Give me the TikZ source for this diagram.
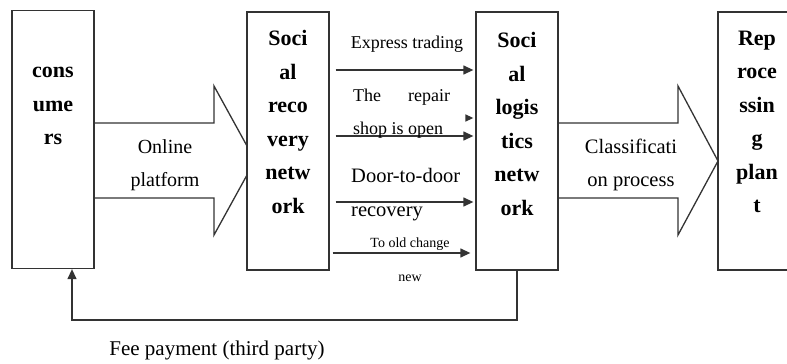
\documentclass[tikz,border=0pt]{standalone}
\usepackage{fontspec}
\setmainfont{Liberation Serif}
\usetikzlibrary{arrows.meta,calc}

\tikzset{
  box/.style={draw=black!80, line width=1.3pt, fill=white, minimum width=82pt, minimum height=258pt, inner sep=0pt},
  boxtext/.style={font=\bfseries\fontsize{22}{33.5}\selectfont, align=center, inner sep=0pt},
  lbl/.style={inner sep=0pt, align=center},
  flow/.style={draw=black!80, line width=1.3pt, -{Triangle[length=10pt,width=9pt]}},
  blockarrow/.style={draw=black!80, line width=1.3pt, line join=miter}
}

\begin{document}
\begin{tikzpicture}[x=1pt,y=-1pt]
    \clip (0,0) rectangle (787,364);
    \fill[white] (0,0) rectangle (787,364);
    % wide arrows first, the boxes cover their tips
    \draw[blockarrow] (94,123) -- (214,123) -- (214,86) -- (255,160.5) -- (214,235) -- (214,198) -- (94,198);
    \draw[blockarrow] (557,123) -- (678,123) -- (678,86) -- (718,161) -- (678,235) -- (678,198) -- (557,198);
    \node[lbl, font=\fontsize{20}{33}\selectfont] (online) at (165,165) {Online\\platform};
    \node[lbl, font=\fontsize{20.5}{33}\selectfont] (classify) at (631,165) {Classificati\\on process};

    % boxes
    \node[box] (cons) at (53,139.5) {};
    \node[box] (rec) at (288,141) {};
    \node[box] (log) at (517,141) {};
    \node[box] (plant) at (759,141) {};
    \node[boxtext] at (53,106) {cons\\ume\\rs};
    \node[boxtext] at (288,122) {Soci\\al\\reco\\very\\netw\\ork};
    \node[boxtext] at (517,124) {Soci\\al\\logis\\tics\\netw\\ork};
    \node[boxtext] at (757,122) {Rep\\roce\\ssin\\g\\plan\\t};

    % thin arrows between the two networks
    \draw[flow, shorten <=6pt, shorten >=2pt] (rec.east |- 0,70) -- (log.west |- 0,70);
    \draw[flow, shorten <=6pt, shorten >=2pt] (rec.east |- 0,136) -- (log.west |- 0,136);
    \draw[flow, shorten <=6pt, shorten >=2pt] (rec.east |- 0,202) -- (log.west |- 0,202);
    \draw[flow, shorten <=3pt, shorten >=5pt] (rec.east |- 0,253) -- (log.west |- 0,253);
    \coordinate (stray) at (466,118);
    \draw[flow, shorten >=2pt, -{Triangle[length=8pt,width=7pt]}] (stray) -- (log.west |- stray);

    \node[lbl, font=\fontsize{18}{33}\selectfont] (express) at (407,44) {Express trading};
    \node[lbl, anchor=west, align=left, font=\fontsize{18}{33}\selectfont] (repair) at (353,114) {The\hspace{27pt}repair\\shop is open};
    \node[lbl, anchor=west, align=left, font=\fontsize{20.5}{34}\selectfont] (door) at (351,195) {Door-to-door\\recovery};
    \node[lbl, font=\fontsize{14}{34}\selectfont] (oldnew) at (410,260) {To old change\\new};

    % fee payment back to consumers
    \draw[flow] (log.south) |- (72,320) -- (cons.south -| 72,0);
    \node[lbl, font=\fontsize{21}{25}\selectfont] (fee) at (217,350) {Fee payment (third party)};
\end{tikzpicture}
\end{document}
